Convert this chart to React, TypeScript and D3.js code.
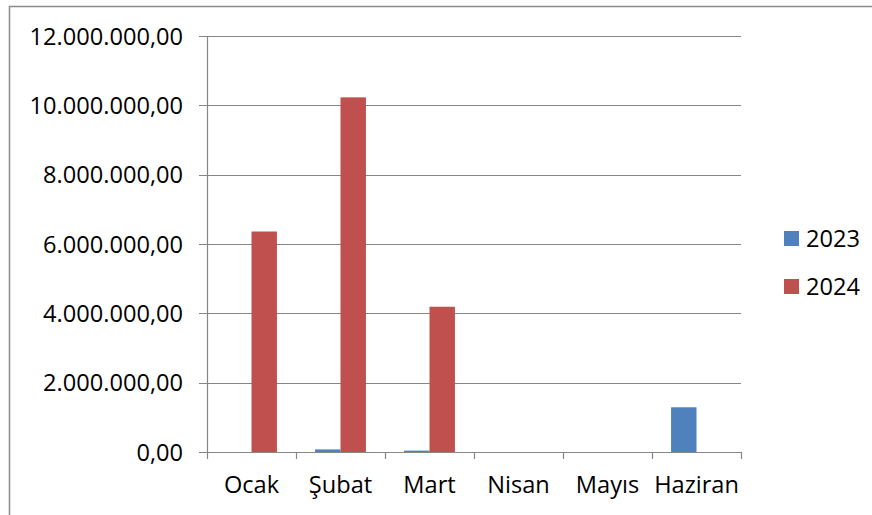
import React from "react";
import * as d3 from "d3";

const categories = ["Ocak", "Şubat", "Mart", "Nisan", "Mayıs", "Haziran"];
const series = ["2023", "2024"];
const values2023 = [0, 75000, 40000, 0, 0, 1290000];
const values2024 = [6360000, 10230000, 4190000, 0, 0, 0];
const yTicks = [0, 2000000, 4000000, 6000000, 8000000, 10000000, 12000000];
const colors = ["#4F81BD", "#C0504D"];

const W = 872;
const H = 515;
const left = 207;
const right = 741;
const top = 36;
const bottom = 452;
const font = "'Open Sans', 'Liberation Sans', sans-serif";

const fmt = (v: number) => {
  const s = Math.round(v).toString().replace(/\B(?=(\d{3})+(?!\d))/g, ".");
  return s + ",00";
};

export default function App() {
  const x = d3.scaleBand<string>().domain(categories).range([left, right]).paddingInner(0).paddingOuter(0);
  const y = d3.scaleLinear().domain([0, 12000000]).range([bottom, top]);
  const inner = d3.scaleBand<string>().domain(series).range([0, x.bandwidth()]).paddingInner(0).paddingOuter(0.75);
  const data = [values2023, values2024];
  const gridColor = "#868686";

  return (
    <svg width={W} height={H} style={{ position: "absolute", left: 0, top: 0 }}>
      <rect x={0} y={0} width={W} height={H} fill="#fff" />
      <rect x={9.5} y={6.5} width={W} height={H} fill="none" stroke="#8c8c8c" strokeWidth={1.5} />
      {yTicks.map((t) => (
        <g key={t}>
          <line x1={left - 8} x2={right} y1={Math.round(y(t)) + 0.5} y2={Math.round(y(t)) + 0.5} stroke={gridColor} strokeWidth={1.2} />
          <text x={183} y={y(t) + 8.5} textAnchor="end" fontFamily={font} fontSize={23.6} fill="#000">
            {fmt(t)}
          </text>
        </g>
      ))}
      <line x1={left + 0.5} x2={left + 0.5} y1={top} y2={bottom} stroke={gridColor} strokeWidth={1.2} />
      {data.map((vals, si) =>
        vals.map((v, ci) => {
          if (v <= 0) return null;
          const bx = (x(categories[ci]) as number) + (inner(series[si]) as number);
          return (
            <rect key={`${si}-${ci}`} x={bx} y={y(v)} width={inner.bandwidth()} height={bottom - y(v)} fill={colors[si]} />
          );
        })
      )}
      <line x1={left} x2={right} y1={bottom + 0.5} y2={bottom + 0.5} stroke={gridColor} strokeWidth={1.2} />
      {categories.concat(["_end"]).map((c, i) => {
        const xx = i < categories.length ? (x(c) as number) : right;
        return <line key={c} x1={xx + 0.5} x2={xx + 0.5} y1={bottom} y2={bottom + 7} stroke={gridColor} strokeWidth={1.2} />;
      })}
      {categories.map((c) => (
        <text key={c} x={(x(c) as number) + x.bandwidth() / 2} y={493} textAnchor="middle" fontFamily={font} fontSize={23.6} fill="#000">
          {c}
        </text>
      ))}
      {series.map((s, i) => (
        <g key={s}>
          <rect x={784} y={231 + i * 48} width={15} height={15} fill={colors[i]} />
          <text x={806} y={247 + i * 48} fontFamily={font} fontSize={23.6} fill="#000">
            {s}
          </text>
        </g>
      ))}
    </svg>
  );
}
